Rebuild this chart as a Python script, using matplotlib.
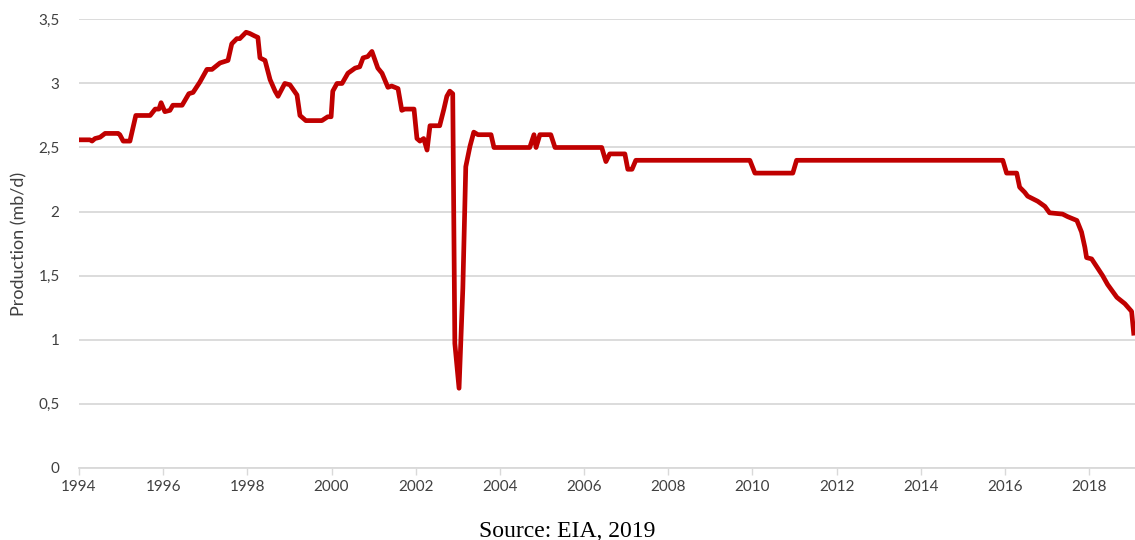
import matplotlib.pyplot as plt
from matplotlib.ticker import FuncFormatter

# 委内瑞拉原油产量 (mb/d), 按年份小数读取
years = [1994.00, 1994.26, 1994.31, 1994.38, 1994.50, 1994.62, 1994.93, 1994.97,
         1995.05, 1995.21, 1995.35, 1995.69, 1995.81, 1995.90, 1995.95, 1996.04,
         1996.16, 1996.23, 1996.45, 1996.61, 1996.71, 1996.87, 1997.04, 1997.16,
         1997.35, 1997.54, 1997.63, 1997.75, 1997.82, 1997.97, 1998.06, 1998.18,
         1998.25, 1998.30, 1998.42, 1998.54, 1998.66, 1998.73, 1998.89, 1999.01,
         1999.18, 1999.25, 1999.39, 1999.77, 1999.91, 1999.99, 2000.03, 2000.13,
         2000.25, 2000.39, 2000.56, 2000.67, 2000.75, 2000.86, 2000.96, 2001.10,
         2001.20, 2001.34, 2001.43, 2001.58, 2001.67, 2001.74, 2001.96, 2002.03,
         2002.10, 2002.19, 2002.27, 2002.34, 2002.57, 2002.67, 2002.74, 2002.81,
         2002.88, 2002.93, 2003.03, 2003.12, 2003.19, 2003.29, 2003.38, 2003.48,
         2003.79, 2003.86, 2004.71, 2004.81, 2004.86, 2004.95, 2005.21, 2005.31,
         2006.42, 2006.52, 2006.61, 2006.97, 2007.04, 2007.14, 2007.23, 2009.94,
         2010.06, 2010.96, 2011.05, 2015.95, 2016.04, 2016.28, 2016.35, 2016.47,
         2016.54, 2016.78, 2016.95, 2017.06, 2017.37, 2017.49, 2017.71, 2017.82,
         2017.90, 2017.94, 2018.06, 2018.18, 2018.32, 2018.44, 2018.66, 2018.85,
         2019.01, 2019.06]
production = [2.56, 2.56, 2.55, 2.57, 2.58, 2.61, 2.61, 2.60,
              2.55, 2.55, 2.75, 2.75, 2.80, 2.80, 2.85, 2.78,
              2.79, 2.83, 2.83, 2.92, 2.93, 3.01, 3.11, 3.11,
              3.16, 3.18, 3.31, 3.35, 3.35, 3.40, 3.39, 3.37,
              3.36, 3.20, 3.18, 3.03, 2.94, 2.90, 3.00, 2.99,
              2.91, 2.75, 2.71, 2.71, 2.74, 2.74, 2.94, 3.00,
              3.00, 3.08, 3.12, 3.13, 3.20, 3.21, 3.25, 3.12,
              3.08, 2.97, 2.98, 2.96, 2.79, 2.80, 2.80, 2.57,
              2.55, 2.57, 2.48, 2.67, 2.67, 2.80, 2.90, 2.94,
              2.92, 0.97, 0.62, 1.40, 2.35, 2.51, 2.62, 2.60,
              2.60, 2.50, 2.50, 2.60, 2.50, 2.60, 2.60, 2.50,
              2.50, 2.39, 2.45, 2.45, 2.33, 2.33, 2.40, 2.40,
              2.30, 2.30, 2.40, 2.40, 2.30, 2.30, 2.19, 2.15,
              2.12, 2.08, 2.04, 1.99, 1.98, 1.96, 1.93, 1.84,
              1.72, 1.64, 1.63, 1.57, 1.50, 1.43, 1.33, 1.28,
              1.22, 1.05]

x_ticks = list(range(1994, 2019, 2))
y_ticks = [0, 0.5, 1, 1.5, 2, 2.5, 3, 3.5]

plt.rcParams['font.family'] = ['Lato', 'DejaVu Sans']

fig = plt.figure(figsize=(11.35, 5.4), dpi=100)
ax = fig.add_axes([0.0696, 0.134, 0.93, 0.83])

ax.plot(years, production, color='#c00000', linewidth=3.4, solid_joinstyle='round')

ax.set_xlim(1994, 2019.08)
ax.set_ylim(0, 3.5)
ax.set_xticks(x_ticks)
ax.set_yticks(y_ticks)
ax.yaxis.set_major_formatter(FuncFormatter(lambda v, p: f"{v:g}".replace('.', ',')))

ax.grid(axis='y', color='#d9d9d9', linewidth=1.3)
ax.set_axisbelow(True)
for s in ['top', 'right', 'left']:
    ax.spines[s].set_visible(False)
ax.spines['bottom'].set_color('#d9d9d9')
ax.spines['bottom'].set_linewidth(1.3)
ax.tick_params(axis='x', colors='#d9d9d9', length=5, width=1, labelcolor='#404040', labelsize=11, pad=4)
ax.tick_params(axis='y', length=0, labelcolor='#404040', labelsize=11, pad=14)
ax.set_ylabel('Production (mb/d)', fontsize=13, color='#404040', labelpad=8)

fig.text(0.5, 0.006, 'Source: EIA, 2019', ha='center', va='baseline',
         fontsize=17, family='Liberation Serif', color='black')

fig.savefig('out.png', dpi=100)
